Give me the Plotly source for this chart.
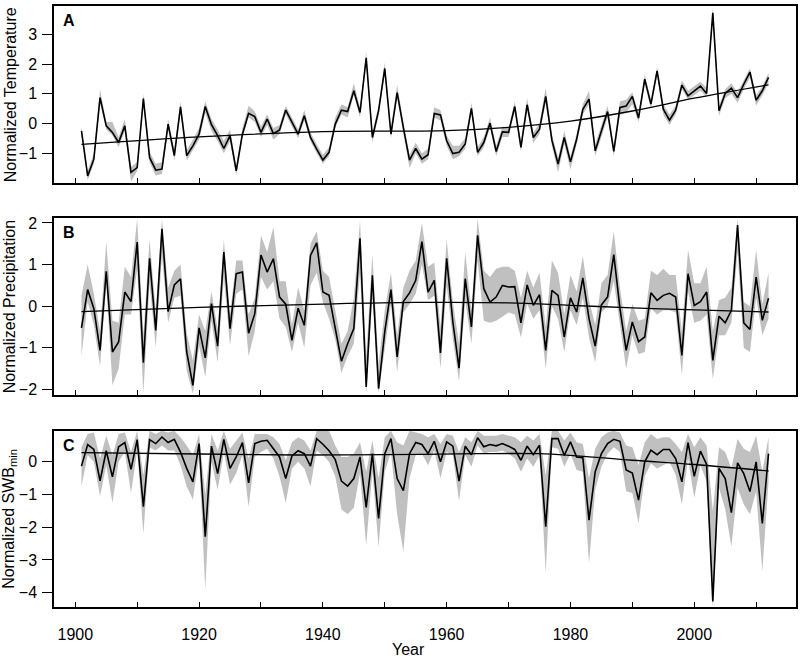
import plotly.graph_objects as go

years = list(range(1901, 2013))

# Panel A: normalized temperature
temp = [-0.25, -1.76, -1.2, 0.87, -0.08, -0.3, -0.64, -0.08, -1.64, -1.48,
        0.84, -1.14, -1.57, -1.53, -0.02, -1.08, 0.56, -1.08, -0.75, -0.36,
        0.57, -0.04, -0.41, -0.84, -0.41, -1.59, -0.36, 0.34, 0.23, -0.3,
        0.15, -0.34, -0.22, 0.45, 0.05, -0.36, 0.26, -0.47, -0.86, -1.23,
        -0.97, -0.02, 0.45, 0.4, 1.1, 0.37, 2.21, -0.47, 0.43, 1.85,
        -0.36, 1.04, -0.13, -1.23, -0.84, -1.2, -1.05, 0.34, 0.29, -0.58,
        -1.01, -0.97, -0.69, 0.51, -0.97, -0.64, 0.01, -0.94, -0.28, -0.3,
        0.57, -0.8, 0.63, -0.47, -0.19, 0.91, -0.56, -1.36, -0.47, -1.29,
        -0.53, 0.48, 0.82, -0.92, -0.25, 0.4, -0.94, 0.54, 0.59, 0.91,
        0.18, 1.49, 0.65, 1.77, 0.48, 0.11, 0.45, 1.29, 0.93, 1.1,
        1.26, 1.01, 3.72, 0.43, 1.01, 1.19, 0.87, 1.32, 1.73, 0.78,
        1.1, 1.55]
temp_hi = [-0.1, -1.6, -1.0, 1.15, 0.05, 0.05, -0.45, 0.15, -1.45, -1.3,
           1.0, -0.95, -1.35, -1.3, 0.15, -0.9, 0.75, -0.9, -0.55, -0.15,
           0.75, 0.15, -0.2, -0.6, -0.2, -1.4, -0.15, 0.6, 0.4, -0.1,
           0.3, -0.15, -0.05, 0.6, 0.2, -0.2, 0.45, -0.3, -0.7, -1.05,
           -0.8, 0.2, 0.65, 0.55, 1.35, 0.55, 2.4, -0.3, 0.6, 2.05,
           -0.15, 1.3, 0.05, -1.05, -0.65, -1.0, -0.85, 0.55, 0.45, -0.4,
           -0.75, -0.75, -0.5, 0.7, -0.8, -0.45, 0.2, -0.75, -0.1, -0.15,
           0.75, -0.6, 0.85, -0.3, 0.0, 1.2, -0.35, -1.15, -0.25, -1.1,
           -0.35, 0.65, 1.1, -0.7, -0.05, 0.6, -0.75, 0.75, 0.8, 1.05,
           0.35, 1.65, 0.8, 1.9, 0.65, 0.3, 0.6, 1.45, 1.1, 1.25,
           1.4, 1.2, 3.9, 0.6, 1.15, 1.35, 1.05, 1.45, 1.85, 0.95,
           1.25, 1.7]
temp_lo = [-0.4, -1.9, -1.35, 0.7, -0.2, -0.4, -0.8, -0.25, -1.95, -1.6,
           0.65, -1.3, -1.75, -1.7, -0.2, -1.25, 0.4, -1.25, -0.9, -0.55,
           0.35, -0.25, -0.6, -1.0, -0.6, -1.75, -0.5, 0.2, 0.05, -0.45,
           -0.05, -0.55, -0.35, 0.3, -0.1, -0.5, 0.1, -0.6, -1.0, -1.35,
           -1.1, -0.15, 0.3, 0.2, 0.95, 0.2, 2.0, -0.65, 0.25, 1.7,
           -0.5, 0.9, -0.35, -1.5, -1.0, -1.35, -1.2, 0.2, 0.1, -0.75,
           -1.2, -1.1, -0.85, 0.35, -1.1, -0.8, -0.15, -1.1, -0.45, -0.45,
           0.4, -0.95, 0.45, -0.65, -0.35, 0.7, -0.75, -1.65, -0.7, -1.55,
           -0.7, 0.3, 0.65, -1.1, -0.45, 0.2, -1.1, 0.3, 0.35, 0.65,
           0.05, 1.3, 0.5, 1.6, 0.3, -0.05, 0.3, 1.15, 0.8, 0.95,
           1.1, 0.9, 3.55, 0.25, 0.85, 1.0, 0.7, 1.15, 1.55, 0.6,
           0.95, 1.35]
temp_trend_years = [1901, 1920, 1940, 1960, 1970, 1980, 1990, 2000, 2012]
temp_trend = [-0.70, -0.45, -0.27, -0.24, -0.13, 0.08, 0.42, 0.85, 1.30]

# Panel B: normalized precipitation
prec = [-0.52, 0.4, -0.06, -1.06, 0.84, -1.1, -0.86, 0.34, 0.11, 1.54,
        -1.36, 1.15, -0.58, 1.86, -0.13, 0.51, 0.66, -1.1, -1.9, -0.52,
        -1.24, 0.06, -0.96, 1.3, -0.54, 0.78, 0.82, -0.65, -0.18, 1.23,
        0.82, 1.14, 0.22, 0.05, -0.82, -0.05, -0.46, 1.22, 1.52, 0.34,
        0.26, -0.5, -1.32, -0.9, -0.54, 1.63, -1.94, 0.74, -1.98, -0.61,
        0.4, -1.22, 0.11, 0.32, 0.62, 1.55, 0.34, 0.62, -1.12, 1.15,
        -0.38, -1.49, 0.66, -0.5, 1.7, 0.42, 0.1, 0.22, 0.5, 0.46,
        0.47, -0.4, 0.51, 0.02, 0.28, -1.06, 0.38, 0.26, -0.74, 0.2,
        -0.14, 0.68, -0.3, -0.96, 0.03, 0.22, 1.24, -0.06, -1.06, -0.38,
        -0.85, -0.74, 0.32, 0.14, 0.26, 0.31, 0.22, -1.18, 0.78, 0.02,
        0.11, 0.34, -1.3, -0.24, -0.4, -0.1, 1.95, -0.4, -0.56, 0.7,
        -0.34, 0.19]
prec_hi = [0.25, 1.0, 0.3, -0.6, 1.55, -0.35, -0.4, 0.95, 0.7, 2.1,
           -0.7, 1.6, -0.1, 2.1, 0.45, 0.85, 1.0, -0.65, -1.3, -0.2,
           -0.6, 0.35, -0.55, 1.6, -0.2, 1.1, 1.1, -0.2, 0.2, 1.7,
           1.3, 1.9, 0.6, 0.6, -0.45, 0.45, -0.1, 1.5, 1.8, 0.85,
           0.7, -0.1, -0.9, -0.6, 0.2, 2.05, -1.2, 1.25, -1.4, -0.1,
           0.8, -0.7, 0.45, 0.85, 1.1, 2.0, 0.95, 1.05, -0.5, 1.6,
           0.1, -0.9, 1.3, -0.1, 2.1, 0.85, 0.7, 0.9, 0.95, 0.95,
           0.85, 0.2, 0.85, 0.45, 0.8, -0.5, 1.1, 0.8, -0.2, 0.75,
           0.35, 1.2, 0.15, -0.45, 0.55, 0.75, 1.8, 0.45, -0.6, 0.05,
           -0.35, -0.3, 0.85, 0.75, 0.9, 0.75, 0.75, -0.6, 1.35, 0.55,
           0.55, 0.95, -0.6, 0.15, 0.2, 0.45, 2.1, 0.1, 0.0, 1.35,
           0.05, 0.8]
prec_lo = [-1.2, 0.1, -0.45, -1.45, 0.5, -1.9, -1.5, -0.2, -0.2, 0.9,
           -2.1, 0.55, -1.0, 1.2, -0.4, 0.2, 0.25, -1.55, -2.1, -0.95,
           -1.7, -0.35, -1.35, 0.7, -0.95, 0.3, 0.4, -1.2, -0.6, 0.7,
           0.4, 0.6, -0.3, -0.5, -1.1, -0.4, -1.0, 0.5, 0.8, 0.1,
           -0.3, -0.8, -1.6, -1.2, -0.9, 0.8, -2.1, 0.2, -2.1, -1.0,
           0.05, -1.6, -0.15, 0.05, 0.3, 1.0, 0.15, 0.25, -1.5, 0.5,
           -0.8, -1.8, 0.15, -0.9, 1.1, -0.35, -0.4, -0.35, -0.25, -0.15,
           -0.2, -0.75, 0.05, -0.3, -0.1, -1.5, 0.0, -0.3, -1.1, -0.1,
           -0.45, 0.2, -0.75, -1.35, -0.15, 0.0, 0.6, -0.4, -1.5, -0.7,
           -1.15, -1.1, -0.05, -0.2, -0.1, -0.1, -0.15, -1.65, 0.35, -0.4,
           -0.35, -0.2, -1.75, -0.7, -0.7, -0.4, 1.3, -1.0, -1.1, 0.2,
           -0.7, -0.3]
prec_trend_years = [1901, 1920, 1940, 1955, 1970, 1980, 1990, 2000, 2012]
prec_trend = [-0.13, -0.03, 0.05, 0.09, 0.08, 0.02, -0.04, -0.09, -0.14]

# Panel C: normalized SWBmin
swb = [-0.13, 0.53, 0.38, -0.58, 0.34, -0.46, 0.46, 0.59, -0.23, 0.68,
       -1.37, 0.68, 0.56, 0.76, 0.59, 0.69, 0.3, -0.2, -0.61, 0.56,
       -2.29, 0.48, -0.36, 0.69, -0.2, 0.15, 0.59, -0.64, 0.56, 0.63,
       0.66, 0.41, 0.15, -0.51, 0.18, 0.34, 0.25, -0.13, 0.71, 0.54,
       0.34, 0.07, -0.59, -0.74, -0.51, 0.15, -1.39, 0.25, -1.73, 0.25,
       0.71, -0.51, -0.88, 0.25, 0.59, 0.53, 0.25, 0.63, 0.0, 0.61,
       0.48, -0.59, 0.48, 0.22, 0.74, 0.46, 0.53, 0.49, 0.56, 0.48,
       0.38, 0.05, 0.48, 0.22, 0.51, -1.98, 0.71, 0.71, 0.2, 0.61,
       0.15, 0.13, -1.78, -0.3, 0.25, 0.56, 0.69, 0.63, -0.25, -0.34,
       -1.17, 0.0, 0.36, 0.22, 0.38, 0.38, 0.1, -0.61, 0.59, -0.44,
       0.33, -0.08, -4.27, -0.2, -0.51, -1.55, -0.03, -0.36, -0.91, 0.0,
       -1.88, 0.25]
swb_hi = [0.45, 0.85, 0.9, 0.1, 0.8, 0.2, 0.85, 0.9, 0.3, 0.95,
          -0.4, 0.95, 0.85, 0.95, 0.9, 0.95, 0.75, 0.5, 0.2, 0.85,
          -1.0, 0.85, 0.35, 0.95, 0.4, 0.65, 0.9, 0.1, 0.85, 0.85,
          0.85, 0.75, 0.55, 0.05, 0.6, 0.75, 0.65, 0.35, 0.95, 0.95,
          0.95, 0.5, 0.15, 0.15, 0.25, 0.6, -0.3, 0.65, -0.5, 0.75,
          0.95, 0.6, 0.5, 0.95, 0.9, 0.85, 0.75, 0.85, 0.55, 0.85,
          0.8, 0.3, 0.75, 0.6, 0.95, 0.8, 0.8, 0.8, 0.85, 0.8,
          0.75, 0.6, 0.8, 0.65, 0.85, -0.4, 0.95, 0.95, 0.65, 0.9,
          0.6, 0.55, -0.5, 0.4, 0.75, 0.9, 0.95, 0.9, 0.5, 0.45,
          -0.1, 0.6, 0.85, 0.7, 0.75, 0.75, 0.55, 0.3, 0.85, 0.45,
          0.75, 0.5, -1.5, 0.45, 0.3, -0.2, 0.7, 0.4, 0.3, 0.8,
          -0.3, 0.75]
swb_lo = [-0.75, 0.2, 0.0, -1.05, -0.1, -1.25, 0.0, 0.3, -0.95, 0.35,
          -2.2, 0.45, 0.35, 0.5, 0.35, 0.35, -0.1, -0.75, -1.15, 0.15,
          -3.9, 0.0, -0.85, 0.3, -0.7, -0.35, 0.2, -1.38, 0.15, 0.3,
          0.4, 0.1, -0.45, -1.25, -0.2, 0.0, -0.2, -0.75, 0.35, 0.2,
          0.0, -0.45, -1.45, -1.6, -1.4, -0.35, -2.55, -0.3, -2.6, -0.3,
          0.3, -1.6, -2.75, -0.5, 0.2, 0.25, -0.1, 0.35, -0.5, 0.3,
          0.2, -1.2, 0.2, -0.15, 0.5, 0.25, 0.3, 0.3, 0.35, 0.25,
          0.1, -0.3, 0.1, -0.15, 0.2, -3.4, 0.45, 0.4, -0.15, 0.25,
          -0.25, -0.3, -3.1, -0.85, -0.15, 0.25, 0.45, 0.3, -0.9, -0.95,
          -1.88, -0.45, -0.05, -0.2, -0.1, 0.0, -0.4, -1.3, 0.1, -1.1,
          -0.1, -0.6, -4.45, -0.8, -1.45, -2.6, -0.8, -1.3, -1.6, -0.9,
          -3.35, -0.6]
swb_trend_years = [1901, 1920, 1936, 1950, 1965, 1975, 1980, 1990, 2000, 2012]
swb_trend = [0.28, 0.24, 0.21, 0.22, 0.25, 0.25, 0.20, 0.05, -0.08, -0.28]

panels = [
    dict(v=temp, hi=temp_hi, lo=temp_lo, ty=temp_trend_years, t=temp_trend,
         rng=[-1.99, 3.95], dom=[0.706, 1.0], ticks=[-1, 0, 1, 2, 3],
         title="Normalized Temperature", letter="A"),
    dict(v=prec, hi=prec_hi, lo=prec_lo, ty=prec_trend_years, t=prec_trend,
         rng=[-2.125, 2.11], dom=[0.3533, 0.6467], ticks=[-2, -1, 0, 1, 2],
         title="Normalized Precipitation", letter="B"),
    dict(v=swb, hi=swb_hi, lo=swb_lo, ty=swb_trend_years, t=swb_trend,
         rng=[-4.44, 0.945], dom=[0.0, 0.2929], ticks=[-4, -3, -2, -1, 0],
         title="Normalized SWB<sub>min</sub>", letter="C"),
]

FONT = "Liberation Sans, Arial, sans-serif"
fig = go.Figure()
layout = dict(
    width=800, height=658,
    margin=dict(l=54, r=2, t=5, b=51),
    paper_bgcolor="white", plot_bgcolor="white",
    showlegend=False,
    font=dict(family=FONT, size=16, color="black"),
    annotations=[],
)

for i, p in enumerate(panels):
    n = "" if i == 0 else str(i + 1)
    xa, ya = "x" + n, "y" + n
    fig.add_trace(go.Scatter(x=years, y=p["lo"], mode="lines", line=dict(width=0),
                             xaxis=xa, yaxis=ya, hoverinfo="skip"))
    fig.add_trace(go.Scatter(x=years, y=p["hi"], mode="lines", line=dict(width=0),
                             fill="tonexty", fillcolor="#c0c0c0",
                             xaxis=xa, yaxis=ya, hoverinfo="skip"))
    fig.add_trace(go.Scatter(x=years, y=p["v"], mode="lines",
                             line=dict(color="black", width=1.6),
                             xaxis=xa, yaxis=ya))
    fig.add_trace(go.Scatter(x=p["ty"], y=p["t"], mode="lines",
                             line=dict(color="black", width=1.3, shape="spline"),
                             xaxis=xa, yaxis=ya))
    last = (i == 2)
    layout["xaxis" + n] = dict(
        range=[1896.56, 2016.44], domain=[0, 1], anchor=ya,
        tick0=1900, dtick=20,
        minor=dict(tick0=1900, dtick=10, ticks="inside", ticklen=5,
                   tickwidth=1.2, tickcolor="black", showgrid=False),
        showticklabels=last, ticks="inside", ticklen=5, tickwidth=1.2,
        tickcolor="black", showline=True, linecolor="black", linewidth=1.5,
        mirror=True, showgrid=False, zeroline=False,
        tickfont=dict(size=16), ticklabelstandoff=12,
    )
    layout["yaxis" + n] = dict(
        range=p["rng"], domain=p["dom"], anchor=xa,
        tickvals=p["ticks"], ticktext=[str(t).replace("-", "\u2212") for t in p["ticks"]],
        ticks="outside", ticklen=10, tickwidth=1.2, tickcolor="black",
        showline=True, linecolor="black", linewidth=1.5, mirror=True,
        showgrid=False, zeroline=False, tickfont=dict(size=16),
        ticklabelstandoff=2,
    )
    ymid = (p["dom"][0] + p["dom"][1]) / 2
    layout["annotations"].append(dict(
        text=p["title"], xref="paper", yref="paper", x=-0.0595, y=ymid,
        xanchor="center", yanchor="middle", textangle=-90, showarrow=False,
        font=dict(size=16, family=FONT)))
    layout["annotations"].append(dict(
        text="<b>" + p["letter"] + "</b>", xref="paper", yref="paper",
        x=0.009, y=p["dom"][1], xanchor="left", yanchor="top", yshift=-4,
        showarrow=False, font=dict(size=16, family=FONT)))

layout["annotations"].append(dict(
    text="Year", xref="paper", yref="paper", x=0.478, y=-0.0715,
    xanchor="center", yanchor="middle", showarrow=False,
    font=dict(size=16, family=FONT)))

fig.update_layout(**layout)
fig.write_html("out.html", config={"displayModeBar": False},
               post_script="document.body.style.margin='0px';document.body.style.padding='0px';")
